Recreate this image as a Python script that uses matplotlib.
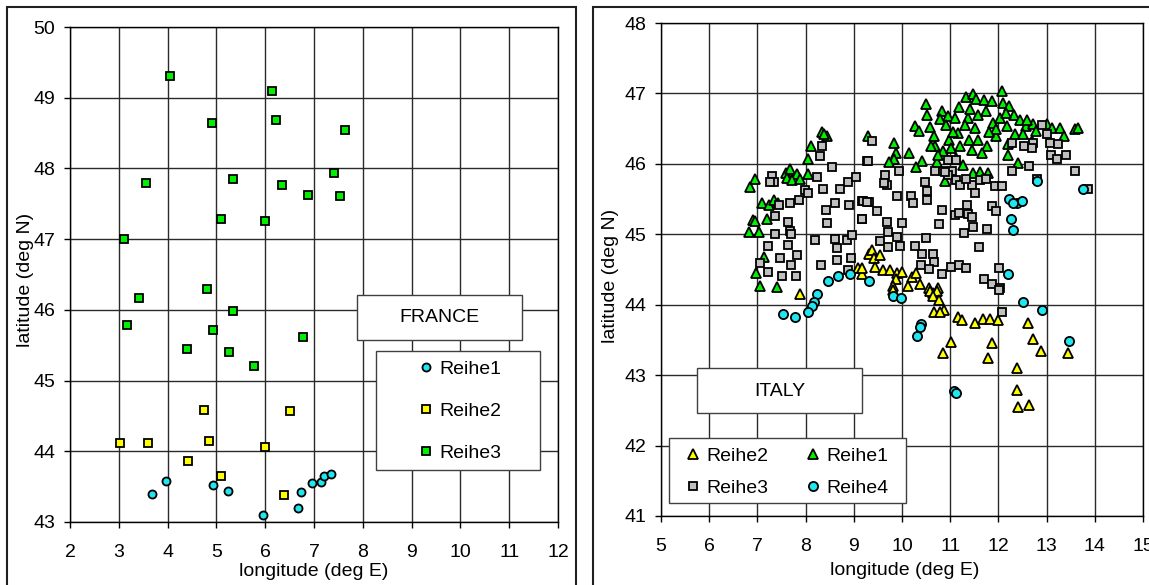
import matplotlib
matplotlib.use("Agg")
import matplotlib.pyplot as plt
from matplotlib.patches import Rectangle

plt.rcParams['font.family'] = ['Liberation Sans', 'DejaVu Sans']

W, H = 1149, 585

# ---- FRANCE data ----
fr_r1_lon = [3.69, 3.97, 4.94, 5.24, 5.95, 6.68, 6.74, 6.95, 7.14, 7.20, 7.34]
fr_r1_lat = [43.40, 43.58, 43.52, 43.44, 43.10, 43.20, 43.42, 43.55, 43.56, 43.65, 43.68]
fr_r2_lon = [3.03, 3.59, 4.41, 4.75, 4.85, 5.09, 6.00, 6.39, 6.51]
fr_r2_lat = [44.12, 44.12, 43.86, 44.58, 44.14, 43.65, 44.06, 43.38, 44.57]
fr_r3_lon = [4.05, 6.13, 4.91, 6.22, 7.64, 3.55, 5.35, 6.34, 7.41, 6.88, 7.53, 5.09,
             6.00, 3.11, 3.41, 4.81, 3.16, 5.34, 4.94, 4.40, 5.26, 5.78, 6.77]
fr_r3_lat = [49.31, 49.09, 48.64, 48.69, 48.55, 47.80, 47.85, 47.77, 47.93, 47.63, 47.61, 47.28,
             47.25, 47.00, 46.17, 46.30, 45.79, 45.98, 45.72, 45.44, 45.40, 45.20, 45.61]

# ---- ITALY data ----
it_r2_lon = [7.88, 9.09, 9.18, 9.32, 9.37, 9.42, 9.55, 9.44, 9.16, 9.61, 9.76, 9.89, 9.99, 10.20,
             9.87, 10.13, 10.37, 9.82, 10.55, 10.74, 10.64, 10.29, 9.82, 10.58, 10.73, 10.64,
             10.77, 10.66, 10.88, 10.79, 11.17, 11.24, 11.51, 11.69, 11.83, 12.00, 12.62, 11.01,
             10.86, 11.87, 11.79, 12.71, 12.88, 13.44, 12.38, 12.39, 12.40, 12.63]
it_r2_lat = [44.15, 44.52, 44.44, 44.72, 44.77, 44.66, 44.71, 44.54, 44.52, 44.49, 44.49, 44.45, 44.46, 44.40,
             44.36, 44.27, 44.30, 44.26, 44.24, 44.24, 44.17, 44.45, 44.21, 44.19, 44.19, 44.12,
             44.06, 43.89, 43.93, 43.90, 43.82, 43.78, 43.74, 43.80, 43.80, 43.79, 43.74, 43.47,
             43.31, 43.46, 43.25, 43.52, 43.34, 43.31, 43.10, 42.79, 42.55, 42.57]

it_r1_lon = [6.85, 6.96, 6.83, 6.90, 6.96, 7.04, 7.10, 7.25, 7.19, 7.35, 7.43, 7.14, 6.98, 7.05,
             7.40, 7.59, 7.68, 7.62, 7.83, 7.71, 7.88, 8.04, 8.05, 8.11, 8.35, 8.44, 9.30,
             10.49, 10.51, 10.27, 10.36, 9.84, 9.87, 10.14, 9.84, 9.74, 10.42, 10.29, 10.58,
             10.66, 10.69, 10.83, 10.96, 10.79, 10.72, 10.86, 11.10, 11.19, 11.32, 11.48, 11.53,
             11.36, 11.52, 11.70, 11.87, 12.08, 12.10, 12.23, 11.74, 11.58, 11.89, 12.03, 12.33,
             12.17, 12.34, 11.17, 10.98, 11.02, 11.20, 11.38, 11.58, 11.76, 11.96, 12.20, 12.57,
             12.72, 12.79, 13.00, 13.11, 13.28, 13.36, 13.59, 13.66, 12.69, 12.50, 12.20, 12.41,
             11.79, 11.62, 11.48, 11.27, 11.13, 10.89, 10.75, 10.61,
             11.45, 11.65, 11.95, 11.30, 11.05, 10.92, 12.45, 12.15, 11.42, 11.80, 12.60, 8.38]
it_r1_lat = [45.67, 45.79, 45.03, 45.20, 45.19, 45.03, 45.45, 45.41, 45.22, 45.48, 45.44, 44.68, 44.45, 44.26,
             44.25, 45.87, 45.93, 45.80, 45.85, 45.77, 45.79, 45.86, 46.07, 46.26, 46.45, 46.39, 46.40,
             46.85, 46.69, 46.54, 46.46, 46.30, 46.15, 46.15, 46.07, 46.03, 46.04, 45.96, 46.53,
             46.40, 46.25, 46.75, 46.68, 46.63, 46.02, 46.18, 46.65, 46.81, 46.95, 46.99, 46.92,
             46.65, 46.51, 46.90, 46.89, 47.04, 46.86, 46.82, 46.75, 46.70, 46.58, 46.65, 46.70,
             46.54, 46.42, 46.44, 46.34, 46.22, 46.25, 46.34, 46.34, 46.25, 46.40, 46.28, 46.54,
             46.56, 46.47, 46.56, 46.51, 46.51, 46.40, 46.50, 46.51, 46.32, 46.43, 46.13, 46.01,
             45.87, 45.89, 45.87, 45.98, 46.09, 45.75, 46.12, 46.26,
             46.20, 46.15, 46.50, 46.55, 46.45, 46.55, 46.62, 46.72, 46.78, 46.45, 46.62, 46.42]

it_r3_lon = [7.31, 7.34, 7.27, 7.45, 7.37, 7.23, 7.05, 7.21, 7.37, 7.63, 7.68, 7.70, 7.63, 7.47,
             7.52, 7.70, 7.81, 7.83, 7.68, 7.87, 7.99, 8.04, 8.23, 8.37, 8.29, 8.33, 8.54, 8.71,
             8.61, 8.42, 8.45, 8.19, 8.32, 8.62, 8.65, 8.65, 8.85, 8.96, 8.94, 8.91, 8.89, 9.04,
             9.16, 9.18, 9.27, 9.32, 8.88,
             9.37, 9.29, 9.65, 9.94, 9.68, 9.63, 9.20, 9.27, 9.16, 9.49, 9.68, 9.70, 9.90, 9.55,
             9.71, 9.95, 9.99, 9.90, 10.18, 10.23, 10.48, 10.51, 10.51, 10.50, 10.27, 10.41, 10.39,
             10.64, 10.66, 10.55, 10.82, 10.77, 10.82, 10.68, 10.86, 10.96, 11.12, 11.03, 11.13,
             11.20, 11.09, 11.18, 11.35, 11.37, 11.46, 11.48, 11.29, 11.46, 11.51, 11.62, 11.74,
             11.93, 12.08, 11.87, 11.96, 11.76, 11.60, 11.01, 11.19, 11.32, 11.71, 11.87, 12.03,
             12.02, 12.29, 12.64, 12.28, 12.53, 12.72, 12.70, 12.90, 13.00, 13.08, 13.24, 13.09,
             13.22, 13.40, 13.59, 13.85, 12.80, 10.96, 11.32, 10.89, 12.08, 12.02]
it_r3_lat = [45.83, 45.74, 45.74, 45.41, 45.26, 44.83, 44.59, 44.47, 45.00, 45.18, 45.04, 45.00, 44.85, 44.66,
             44.41, 44.57, 44.41, 44.70, 45.44, 45.49, 45.63, 45.58, 45.82, 45.65, 46.11, 46.26, 45.96, 45.64,
             45.45, 45.34, 45.16, 44.92, 44.56, 44.94, 44.80, 44.64, 44.92, 44.99, 44.66, 45.41, 45.74, 45.81,
             45.21, 45.47, 46.04, 45.46, 44.49,
             46.33, 46.04, 45.84, 45.90, 45.70, 45.73, 45.47, 45.46, 45.21, 45.33, 45.18, 45.03, 44.96, 44.91,
             44.82, 44.83, 45.16, 45.55, 45.54, 45.45, 45.74, 45.61, 45.48, 44.95, 44.83, 44.72, 44.56,
             44.72, 44.61, 44.51, 44.43, 45.14, 45.34, 45.90, 45.90, 46.06, 46.06, 45.90, 45.77,
             45.70, 45.27, 45.30, 45.41, 45.29, 45.24, 45.10, 45.02, 45.70, 45.58, 45.77, 45.79,
             45.69, 45.69, 45.40, 45.33, 45.08, 44.82, 44.54, 44.56, 44.52, 44.37, 44.30, 44.24,
             44.52, 45.90, 45.97, 46.30, 46.25, 46.30, 46.22, 46.55, 46.42, 46.29, 46.28, 46.13,
             46.07, 46.12, 45.90, 45.65, 45.79, 45.84, 45.79, 45.88, 43.89, 44.21]

it_r4_lon = [8.46, 8.67, 8.93, 9.31, 8.23, 8.18, 8.14, 8.04, 7.77, 7.54, 12.80, 13.75, 12.22, 12.38,
             12.48, 12.31, 12.26, 12.31, 12.20, 9.82, 9.97, 12.50, 12.90, 10.39, 10.38, 10.31,
             13.47, 11.08, 11.11]
it_r4_lat = [44.33, 44.41, 44.44, 44.34, 44.15, 44.04, 43.98, 43.90, 43.83, 43.87, 45.75, 45.65, 45.50, 45.44,
             45.47, 45.44, 45.22, 45.06, 44.43, 44.12, 44.09, 44.04, 43.93, 43.72, 43.69, 43.56,
             43.49, 42.78, 42.75]

CYAN = '#1FE6F0'
YELLOW = '#FFFF00'
GREEN = '#00F000'
GRAY = '#C0C0C0'


def px_axes(fig, x0, y0, x1, y1):
    return fig.add_axes([x0 / W, 1 - y1 / H, (x1 - x0) / W, (y1 - y0) / H])


def px_box(fig, x0, y0, x1, y1, **kw):
    r = Rectangle((x0 / W, 1 - y1 / H), (x1 - x0) / W, (y1 - y0) / H,
                  transform=fig.transFigure, **kw)
    fig.add_artist(r)
    return r


def style_axes(ax, xlim, ylim):
    ax.set_xlim(*xlim)
    ax.set_ylim(*ylim)
    ax.set_xticks(range(xlim[0], xlim[1] + 1))
    ax.set_yticks(range(ylim[0], ylim[1] + 1))
    ax.grid(True, color='#2a2a2a', linewidth=1.0)
    for s in ax.spines.values():
        s.set_color('black')
        s.set_linewidth(1.0)
    ax.tick_params(axis='both', direction='out', length=4.5, width=1.0,
                   labelsize=14, colors='black')
    ax.tick_params(axis='x', pad=11)
    ax.tick_params(axis='y', pad=6)


fig = plt.figure(figsize=(W / 100, H / 100), dpi=100)
fig.patch.set_facecolor('white')

# outer chart frames
px_box(fig, 7, 7, 576, 600, fill=False, ec='#202020', lw=1.5, clip_on=False)
px_box(fig, 593, 7, 1200, 600, fill=False, ec='#202020', lw=1.5, clip_on=False)

mk = dict(mec='black', mew=1.3, linestyle='none')

# ---------------- FRANCE ----------------
ax1 = px_axes(fig, 70, 27, 558, 522)
style_axes(ax1, (2, 12), (43, 50))
h1, = ax1.plot(fr_r1_lon, fr_r1_lat, 'o', ms=5.8, mfc=CYAN, **mk)
h2, = ax1.plot(fr_r2_lon, fr_r2_lat, 's', ms=5.6, mfc=YELLOW, **mk)
h3, = ax1.plot(fr_r3_lon, fr_r3_lat, 's', ms=5.6, mfc=GREEN, **mk)
ax1.set_xlabel('longitude (deg E)', fontsize=14)
ax1.set_ylabel('latitude (deg N)', fontsize=14)
ax1.xaxis.set_label_coords(0.5, -0.082)
ax1.yaxis.set_label_coords(-0.074, 0.489)

px_box(fig, 357, 295, 522, 340, fc='white', ec='#404040', lw=1.0, zorder=3)
fig.text(439.5 / W, 1 - 317.5 / H, 'FRANCE', ha='center', va='center', fontsize=14, zorder=6)
px_box(fig, 376, 351, 540, 470, fc='white', ec='#404040', lw=1.0, zorder=3)
fig.legend([h1, h2, h3], ['Reihe1', 'Reihe2', 'Reihe3'], loc='center',
           bbox_to_anchor=(460 / W, 1 - 411 / H), frameon=False, fontsize=14,
           handlelength=0.8, handletextpad=0.3, labelspacing=1.25, borderpad=0)

# ---------------- ITALY ----------------
ax2 = px_axes(fig, 661, 23, 1143, 516)
style_axes(ax2, (5, 15), (41, 48))
g2, = ax2.plot(it_r2_lon, it_r2_lat, '^', ms=7.0, mfc=YELLOW, **mk)
g1, = ax2.plot(it_r1_lon, it_r1_lat, '^', ms=7.0, mfc=GREEN, **mk)
g3, = ax2.plot(it_r3_lon, it_r3_lat, 's', ms=5.8, mfc=GRAY, **mk)
g4, = ax2.plot(it_r4_lon, it_r4_lat, 'o', ms=6.6, mfc=CYAN, **mk)
ax2.set_xlabel('longitude (deg E)', fontsize=14)
ax2.set_ylabel('latitude (deg N)', fontsize=14)
ax2.xaxis.set_label_coords(0.506, -0.093)
ax2.yaxis.set_label_coords(-0.087, 0.486)

px_box(fig, 697, 368, 862, 413, fc='white', ec='#404040', lw=1.0, zorder=3)
fig.text(779.5 / W, 1 - 391 / H, 'ITALY', ha='center', va='center', fontsize=14, zorder=6)
px_box(fig, 669, 438, 906, 503, fc='white', ec='#404040', lw=1.0, zorder=3)
fig.legend([g2, g3, g1, g4], ['Reihe2', 'Reihe3', 'Reihe1', 'Reihe4'], loc='center', ncol=2,
           bbox_to_anchor=(787 / W, 1 - 472 / H), frameon=False, fontsize=14,
           handlelength=0.8, handletextpad=0.3, labelspacing=0.75, columnspacing=1.9, borderpad=0)

fig.savefig('out.png', dpi=100)
